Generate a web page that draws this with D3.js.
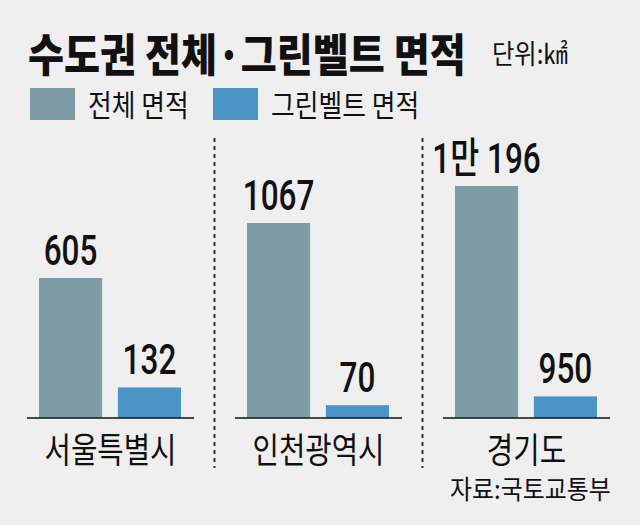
<!DOCTYPE html>
<html>
<head>
<meta charset="utf-8">
<script src="https://cdn.jsdelivr.net/npm/d3@7"></script>
<style>
  body { margin: 0; background: #efefef; }
  text { font-family: "Noto Sans CJK KR", "Noto Sans", sans-serif; fill: #111; }
</style>
</head>
<body>
<div id="chart"></div>
<script>
// data
var regions = ["서울특별시", "인천광역시", "경기도"]
var totalArea = [605, 1067, 10196]
var greenbeltArea = [132, 70, 950]
var seriesNames = ["전체 면적", "그린벨트 면적"]

var width = 640
var height = 525
var baseY = 418
var colors = ["#7f9ba5", "#4a95c6"]
// each region is drawn on its own scale (the original is not to one scale)
var groupHeights = [140, 195, 232]

var svg = d3.select("#chart")
  .append("svg")
  .attr("width", width)
  .attr("height", height)

svg.append("rect")
  .attr("width", width)
  .attr("height", height)
  .attr("fill", "#efefef")

// condensed text: squeeze the natural width by sx like the print font
function squeezed(parent, x, y, str, size, sx, anchor, weight, family) {
  var t = parent.append("text")
    .attr("x", x)
    .attr("y", y)
    .attr("text-anchor", anchor || "start")
    .attr("font-size", size)
    .attr("font-weight", weight || "normal")
    .style("font-family", family || null)
    .text(str)
  var len = t.node().getComputedTextLength()
  t.attr("textLength", len * sx).attr("lengthAdjust", "spacingAndGlyphs")
  return t
}

// title (squeezed with a transform) + unit
svg.append("g")
  .attr("transform", "translate(28,72) scale(0.87,1)")
  .append("text")
  .attr("font-size", 45)
  .attr("font-weight", "900")
  .text("수도권 전체·그린벨트 면적")
squeezed(svg, 492, 64, "단위:㎢", 27, 0.9, "start")

// legend
var legendX = [30, 213]
seriesNames.forEach(function(name, i) {
  svg.append("rect")
    .attr("x", legendX[i])
    .attr("y", 88)
    .attr("width", 45)
    .attr("height", 32)
    .attr("fill", colors[i])
  squeezed(svg, legendX[i] + 58, 116, name, 30, 0.86, "start")
})

// scales
var x0 = d3.scaleBand()
  .domain(regions)
  .range([27, 610])
  .paddingInner(0.197)
  .paddingOuter(0)

var x1 = d3.scaleBand()
  .domain([0, 1])
  .range([12, 154])
  .paddingInner(0.2)
  .paddingOuter(0)

function fmt(v) {
  if (v >= 10000) return Math.floor(v / 10000) + "만 " + (v % 10000)
  return String(v)
}

regions.forEach(function(region, gi) {
  var vals = [totalArea[gi], greenbeltArea[gi]]
  var y = d3.scaleLinear()
    .domain([0, d3.max(vals)])
    .range([baseY, baseY - groupHeights[gi]])

  var g = svg.append("g")
    .attr("transform", "translate(" + x0(region) + ",0)")

  vals.forEach(function(v, i) {
    g.append("rect")
      .attr("x", x1(i))
      .attr("y", y(v))
      .attr("width", x1.bandwidth())
      .attr("height", baseY - y(v))
      .attr("fill", colors[i])

    squeezed(g, x1(i) + x1.bandwidth() / 2, y(v) - 13, fmt(v), 42, 0.75, "middle", "500", "Roboto, 'Noto Sans CJK KR', sans-serif")
  })

  // baseline
  g.append("line")
    .attr("x1", 0)
    .attr("x2", x0.bandwidth())
    .attr("y1", baseY)
    .attr("y2", baseY)
    .attr("stroke", "#111")
    .attr("stroke-width", 1.5)

  // region label
  squeezed(g, x0.bandwidth() / 2, 463, region, 35, 0.82, "middle")

  // dotted divider after each group but the last
  if (gi < regions.length - 1) {
    var dx = x0.bandwidth() + (x0.step() - x0.bandwidth()) / 2
    g.append("line")
      .attr("x1", dx)
      .attr("x2", dx)
      .attr("y1", 138)
      .attr("y2", 468)
      .attr("stroke", "#333")
      .attr("stroke-width", 2)
      .attr("stroke-dasharray", "4,4")
  }
})

// source
squeezed(svg, 450, 499, "자료:국토교통부", 26, 0.92, "start")
</script>
</body>
</html>
